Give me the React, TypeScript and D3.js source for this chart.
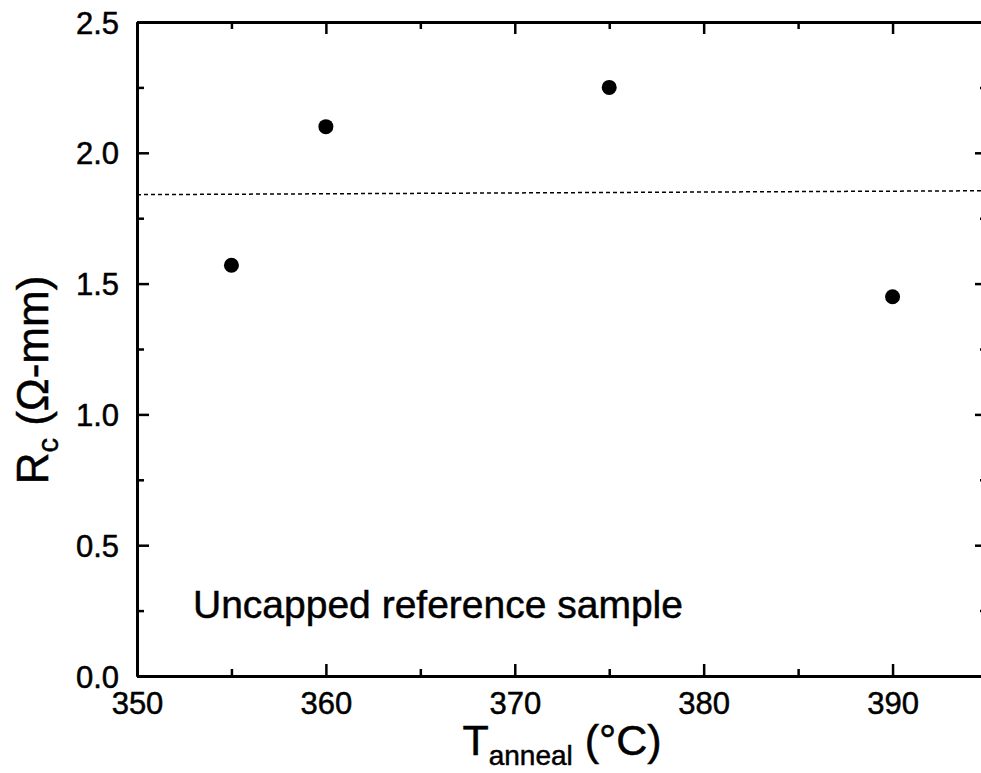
import { useEffect, useRef } from "react";
import * as d3 from "d3";

const temps = [355, 360, 375, 390];
const rc = [1.57, 2.1, 2.25, 1.45];
const refLineX = [350, 395];
const refLineY = [1.84, 1.855];
const xTicks = [350, 360, 370, 380, 390];
const yTicks = [0, 0.5, 1.0, 1.5, 2.0, 2.5];
const annotation = "Uncapped reference sample";

function App() {
  const svgRef = useRef<SVGSVGElement>(null);

  useEffect(() => {
    const W = 981;
    const H = 773;
    const margin = { top: 22, right: -6, bottom: 97, left: 137 };
    const width = W - margin.left - margin.right;
    const height = H - margin.top - margin.bottom;
    const font = "'Liberation Sans', Arial, sans-serif";

    const svg = d3.select(svgRef.current).attr("width", W).attr("height", H);
    svg.selectAll("*").remove();

    const g = svg.append("g").attr("transform", `translate(${margin.left},${margin.top})`);

    const x = d3.scaleLinear().domain([350, 395]).range([0, width]);
    const y = d3.scaleLinear().domain([0, 2.5]).range([height, 0]);

    const xMinor = d3.range(355, 395, 10);
    const yMinor = d3.range(0.25, 2.5, 0.5);

    // bottom
    const bottom = g.append("g").attr("transform", `translate(0,${height})`)
      .call(d3.axisBottom(x).tickValues(xTicks).tickSizeInner(-12).tickSizeOuter(0).tickPadding(16).tickFormat(d3.format("d")));
    g.append("g").attr("transform", `translate(0,${height})`)
      .call(d3.axisBottom(x).tickValues(xMinor).tickSizeInner(-7).tickSizeOuter(0).tickFormat(() => ""));
    // top
    g.append("g").call(d3.axisTop(x).tickValues(xTicks).tickSizeInner(-12).tickSizeOuter(0).tickFormat(() => ""));
    g.append("g").call(d3.axisTop(x).tickValues(xMinor).tickSizeInner(-7).tickSizeOuter(0).tickFormat(() => ""));
    // left
    const left = g.append("g")
      .call(d3.axisLeft(y).tickValues(yTicks).tickSizeInner(-12).tickSizeOuter(0).tickPadding(18).tickFormat(d3.format(".1f")));
    g.append("g").call(d3.axisLeft(y).tickValues(yMinor).tickSizeInner(-7).tickSizeOuter(0).tickFormat(() => ""));
    // right
    g.append("g").attr("transform", `translate(${width},0)`)
      .call(d3.axisRight(y).tickValues(yTicks).tickSizeInner(-12).tickSizeOuter(0).tickFormat(() => ""));
    g.append("g").attr("transform", `translate(${width},0)`)
      .call(d3.axisRight(y).tickValues(yMinor).tickSizeInner(-7).tickSizeOuter(0).tickFormat(() => ""));

    g.selectAll(".domain").attr("stroke", "#000").attr("stroke-width", 3);
    g.selectAll(".tick line").attr("stroke", "#000").attr("stroke-width", 2.5);
    g.selectAll(".tick text")
      .attr("fill", "#000")
      .attr("stroke", "#000")
      .attr("stroke-width", 0.5)
      .style("font-family", font)
      .style("font-size", "31px");
    bottom.selectAll(".tick text").attr("dy", "0.71em");
    left.selectAll(".tick text").attr("dy", "0.36em");

    // reference line
    g.append("line")
      .attr("x1", x(refLineX[0])).attr("y1", y(refLineY[0]))
      .attr("x2", x(refLineX[1])).attr("y2", y(refLineY[1]))
      .attr("stroke", "#000").attr("stroke-width", 1.5).attr("stroke-dasharray", "4,3");

    g.selectAll(".pt")
      .data(temps.map((t, i) => [t, rc[i]]))
      .join("circle")
      .attr("class", "pt")
      .attr("cx", d => x(d[0]))
      .attr("cy", d => y(d[1]))
      .attr("r", 7.5)
      .attr("fill", "#000");

    g.append("text")
      .attr("x", 193 - margin.left)
      .attr("y", 618 - margin.top)
      .attr("stroke", "#000")
      .attr("stroke-width", 0.5)
      .style("font-family", font)
      .style("font-size", "39px")
      .text(annotation);

    // axis titles
    const xt = svg.append("text")
      .attr("x", 562).attr("y", 755)
      .attr("text-anchor", "middle")
      .attr("stroke", "#000")
      .attr("stroke-width", 0.5)
      .style("font-family", font)
      .style("font-size", "43px");
    xt.append("tspan").text("T");
    xt.append("tspan").attr("dy", 10).style("font-size", "28px").text("anneal");
    xt.append("tspan").attr("dy", -10).text(" (°C)");

    const yt = svg.append("text")
      .attr("transform", `translate(48,380) rotate(-90)`)
      .attr("text-anchor", "middle")
      .attr("stroke", "#000")
      .attr("stroke-width", 0.5)
      .style("font-family", font)
      .style("font-size", "44px");
    yt.append("tspan").text("R");
    yt.append("tspan").attr("dy", 10).style("font-size", "29px").text("c");
    yt.append("tspan").attr("dy", -10).text(" (Ω-mm)");
  }, []);

  return (
    <div style={{ position: "absolute", left: 0, top: 0, background: "#fff" }}>
      <svg ref={svgRef} style={{ display: "block" }}></svg>
    </div>
  );
}

export default App;
